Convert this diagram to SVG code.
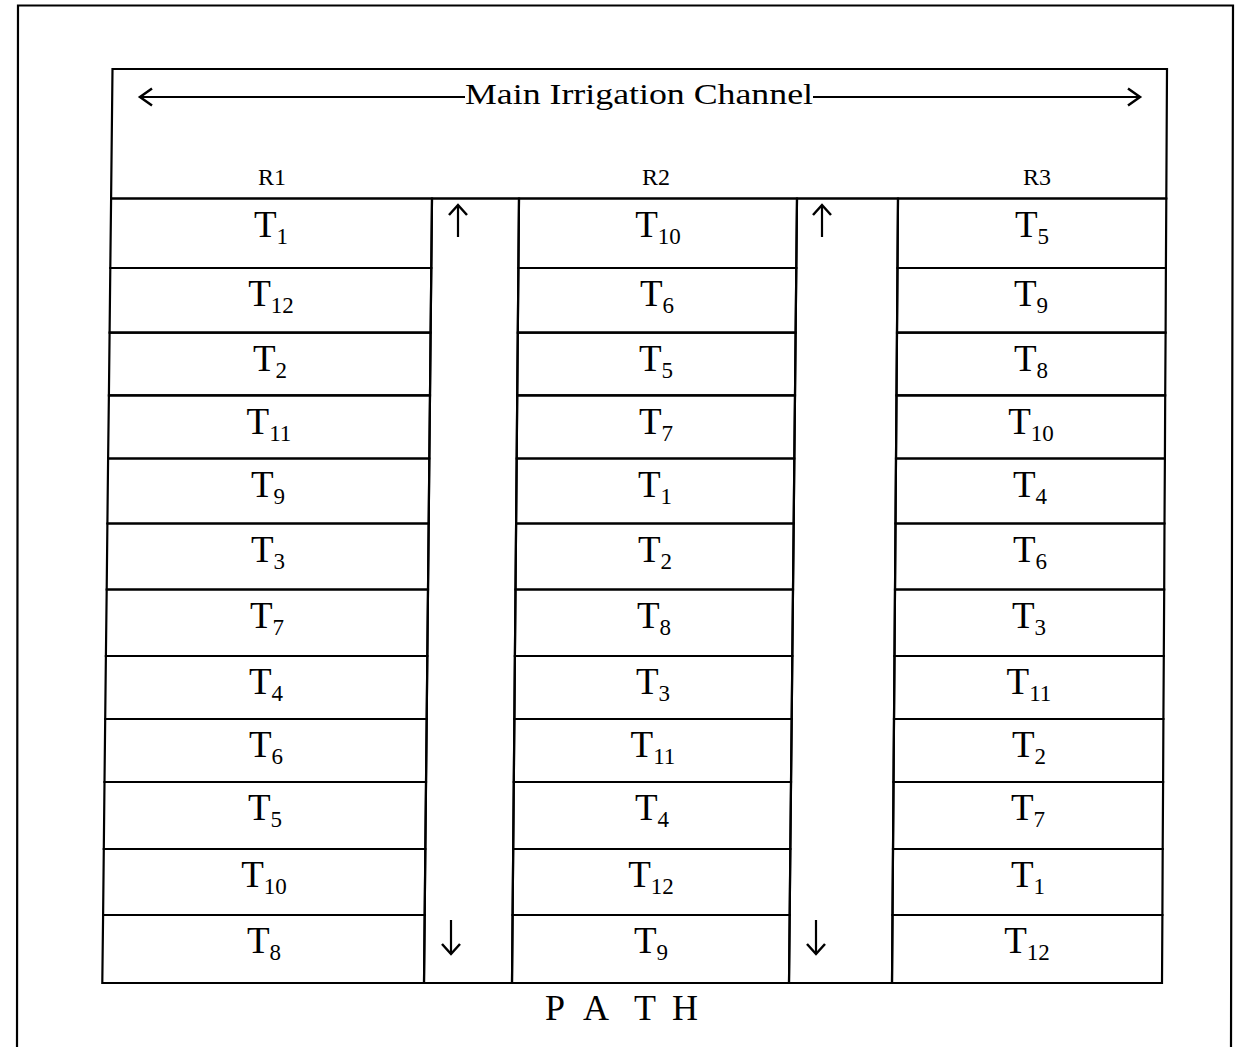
<svg xmlns="http://www.w3.org/2000/svg" width="1236" height="1047" viewBox="0 0 1236 1047">
<style>
.b{fill:none;stroke:#000;stroke-width:2.2;stroke-linejoin:miter}
.t{font-family:"Liberation Serif","Times New Roman",serif;font-size:37px;fill:#000;text-anchor:middle}
.s{font-size:23px}
.r{font-family:"Liberation Serif","Times New Roman",serif;font-size:24px;fill:#000;text-anchor:middle}
.h{font-family:"Liberation Serif","Times New Roman",serif;font-size:30px;fill:#000}
.a{fill:none;stroke:#000;stroke-width:2.2}
</style>
<defs>
<marker id="chev" markerUnits="userSpaceOnUse" viewBox="-16 -12 20 24" refX="0" refY="0" markerWidth="20" markerHeight="24" orient="auto-start-reverse"><path d="M-12,-8.5 L0,0 L-12,8.5" fill="none" stroke="#000" stroke-width="2.5"/></marker>
<marker id="chev2" markerUnits="userSpaceOnUse" viewBox="-14 -12 18 24" refX="0" refY="0" markerWidth="18" markerHeight="24" orient="auto"><path d="M-10,-9 L0,0 L-10,9" fill="none" stroke="#000" stroke-width="2.5"/></marker>
</defs>
<rect width="1236" height="1047" fill="#fff"/>
<path id="frame" class="b" d="M17,1047 L18,5.5 L1233,5.5 L1231,1047"/>
<g id="header">
<polygon class="b" points="112.5,69 1167,69 1166.3,198.5 111.1,198.5"/>
<text class="h" x="465" y="104" textLength="348" lengthAdjust="spacingAndGlyphs">Main Irrigation Channel</text>
<text class="r" x="272" y="185">R1</text>
<text class="r" x="656" y="185">R2</text>
<text class="r" x="1037" y="185">R3</text>
</g>
<g id="connectors">
<line class="a" x1="140" y1="97" x2="465" y2="97" marker-start="url(#chev)"/>
<line class="a" x1="813" y1="97" x2="1140" y2="97" marker-end="url(#chev)"/>
<line class="a" x1="458" y1="237" x2="458" y2="205" marker-end="url(#chev2)"/>
<line class="a" x1="822" y1="237" x2="822" y2="205" marker-end="url(#chev2)"/>
<line class="a" x1="451" y1="920" x2="451" y2="954" marker-end="url(#chev2)"/>
<line class="a" x1="816" y1="920" x2="816" y2="954" marker-end="url(#chev2)"/>
</g>
<g id="path1"><polygon class="b" points="432,198.5 519,198.5 512,983 424,983"/></g>
<g id="path2"><polygon class="b" points="797,198.5 898,198.5 892,983 789,983"/></g>
<g id="R1">
<g id="r1c1"><polygon class="b" points="111.1,198.5 432,198.5 431.3,268 110.3,268"/><text class="t" x="271" y="237">T<tspan class="s" dy="7">1</tspan></text></g>
<g id="r1c2"><polygon class="b" points="110.3,268 431.3,268 430.6,332.7 109.6,332.7"/><text class="t" x="271" y="306">T<tspan class="s" dy="7">12</tspan></text></g>
<g id="r1c3"><polygon class="b" points="109.6,332.7 430.6,332.7 430,395.3 108.9,395.3"/><text class="t" x="270" y="371">T<tspan class="s" dy="7">2</tspan></text></g>
<g id="r1c4"><polygon class="b" points="108.9,395.3 430,395.3 429.3,458.5 108.1,458.5"/><text class="t" x="269" y="434">T<tspan class="s" dy="7">11</tspan></text></g>
<g id="r1c5"><polygon class="b" points="108.1,458.5 429.3,458.5 428.7,523.5 107.4,523.5"/><text class="t" x="268" y="497">T<tspan class="s" dy="7">9</tspan></text></g>
<g id="r1c6"><polygon class="b" points="107.4,523.5 428.7,523.5 428,589.5 106.7,589.5"/><text class="t" x="268" y="562">T<tspan class="s" dy="7">3</tspan></text></g>
<g id="r1c7"><polygon class="b" points="106.7,589.5 428,589.5 427.3,656 105.9,656"/><text class="t" x="267" y="628">T<tspan class="s" dy="7">7</tspan></text></g>
<g id="r1c8"><polygon class="b" points="105.9,656 427.3,656 426.7,719 105.2,719"/><text class="t" x="266" y="694">T<tspan class="s" dy="7">4</tspan></text></g>
<g id="r1c9"><polygon class="b" points="105.2,719 426.7,719 426,782 104.5,782"/><text class="t" x="266" y="757">T<tspan class="s" dy="7">6</tspan></text></g>
<g id="r1c10"><polygon class="b" points="104.5,782 426,782 425.3,849 103.8,849"/><text class="t" x="265" y="820">T<tspan class="s" dy="7">5</tspan></text></g>
<g id="r1c11"><polygon class="b" points="103.8,849 425.3,849 424.7,915 103.1,915"/><text class="t" x="264" y="887">T<tspan class="s" dy="7">10</tspan></text></g>
<g id="r1c12"><polygon class="b" points="103.1,915 424.7,915 424,983 102.3,983"/><text class="t" x="264" y="953">T<tspan class="s" dy="7">8</tspan></text></g>
</g>
<g id="R2">
<g id="r2c1"><polygon class="b" points="519,198.5 797,198.5 796.3,268 518.4,268"/><text class="t" x="658" y="237">T<tspan class="s" dy="7">10</tspan></text></g>
<g id="r2c2"><polygon class="b" points="518.4,268 796.3,268 795.6,332.7 517.8,332.7"/><text class="t" x="657" y="306">T<tspan class="s" dy="7">6</tspan></text></g>
<g id="r2c3"><polygon class="b" points="517.8,332.7 795.6,332.7 795,395.3 517.2,395.3"/><text class="t" x="656" y="371">T<tspan class="s" dy="7">5</tspan></text></g>
<g id="r2c4"><polygon class="b" points="517.2,395.3 795,395.3 794.3,458.5 516.7,458.5"/><text class="t" x="656" y="434">T<tspan class="s" dy="7">7</tspan></text></g>
<g id="r2c5"><polygon class="b" points="516.7,458.5 794.3,458.5 793.7,523.5 516.1,523.5"/><text class="t" x="655" y="497">T<tspan class="s" dy="7">1</tspan></text></g>
<g id="r2c6"><polygon class="b" points="516.1,523.5 793.7,523.5 793,589.5 515.5,589.5"/><text class="t" x="655" y="562">T<tspan class="s" dy="7">2</tspan></text></g>
<g id="r2c7"><polygon class="b" points="515.5,589.5 793,589.5 792.3,656 514.9,656"/><text class="t" x="654" y="628">T<tspan class="s" dy="7">8</tspan></text></g>
<g id="r2c8"><polygon class="b" points="514.9,656 792.3,656 791.7,719 514.4,719"/><text class="t" x="653" y="694">T<tspan class="s" dy="7">3</tspan></text></g>
<g id="r2c9"><polygon class="b" points="514.4,719 791.7,719 791,782 513.8,782"/><text class="t" x="653" y="757">T<tspan class="s" dy="7">11</tspan></text></g>
<g id="r2c10"><polygon class="b" points="513.8,782 791,782 790.3,849 513.2,849"/><text class="t" x="652" y="820">T<tspan class="s" dy="7">4</tspan></text></g>
<g id="r2c11"><polygon class="b" points="513.2,849 790.3,849 789.7,915 512.6,915"/><text class="t" x="651" y="887">T<tspan class="s" dy="7">12</tspan></text></g>
<g id="r2c12"><polygon class="b" points="512.6,915 789.7,915 789,983 512,983"/><text class="t" x="651" y="953">T<tspan class="s" dy="7">9</tspan></text></g>
</g>
<g id="R3">
<g id="r3c1"><polygon class="b" points="898,198.5 1166.3,198.5 1165.9,268 897.5,268"/><text class="t" x="1032" y="237">T<tspan class="s" dy="7">5</tspan></text></g>
<g id="r3c2"><polygon class="b" points="897.5,268 1165.9,268 1165.6,332.7 897,332.7"/><text class="t" x="1031" y="306">T<tspan class="s" dy="7">9</tspan></text></g>
<g id="r3c3"><polygon class="b" points="897,332.7 1165.6,332.7 1165.2,395.3 896.5,395.3"/><text class="t" x="1031" y="371">T<tspan class="s" dy="7">8</tspan></text></g>
<g id="r3c4"><polygon class="b" points="896.5,395.3 1165.2,395.3 1164.9,458.5 896,458.5"/><text class="t" x="1031" y="434">T<tspan class="s" dy="7">10</tspan></text></g>
<g id="r3c5"><polygon class="b" points="896,458.5 1164.9,458.5 1164.5,523.5 895.5,523.5"/><text class="t" x="1030" y="497">T<tspan class="s" dy="7">4</tspan></text></g>
<g id="r3c6"><polygon class="b" points="895.5,523.5 1164.5,523.5 1164.2,589.5 895,589.5"/><text class="t" x="1030" y="562">T<tspan class="s" dy="7">6</tspan></text></g>
<g id="r3c7"><polygon class="b" points="895,589.5 1164.2,589.5 1163.8,656 894.5,656"/><text class="t" x="1029" y="628">T<tspan class="s" dy="7">3</tspan></text></g>
<g id="r3c8"><polygon class="b" points="894.5,656 1163.8,656 1163.4,719 894,719"/><text class="t" x="1029" y="694">T<tspan class="s" dy="7">11</tspan></text></g>
<g id="r3c9"><polygon class="b" points="894,719 1163.4,719 1163.1,782 893.5,782"/><text class="t" x="1029" y="757">T<tspan class="s" dy="7">2</tspan></text></g>
<g id="r3c10"><polygon class="b" points="893.5,782 1163.1,782 1162.7,849 893,849"/><text class="t" x="1028" y="820">T<tspan class="s" dy="7">7</tspan></text></g>
<g id="r3c11"><polygon class="b" points="893,849 1162.7,849 1162.4,915 892.5,915"/><text class="t" x="1028" y="887">T<tspan class="s" dy="7">1</tspan></text></g>
<g id="r3c12"><polygon class="b" points="892.5,915 1162.4,915 1162,983 892,983"/><text class="t" x="1027" y="953">T<tspan class="s" dy="7">12</tspan></text></g>
</g>
<text id="pathlabel" class="r" style="font-size:36px;text-anchor:start" x="545 566 583 609 634 655 672" y="1020">P A T H</text>
</svg>
